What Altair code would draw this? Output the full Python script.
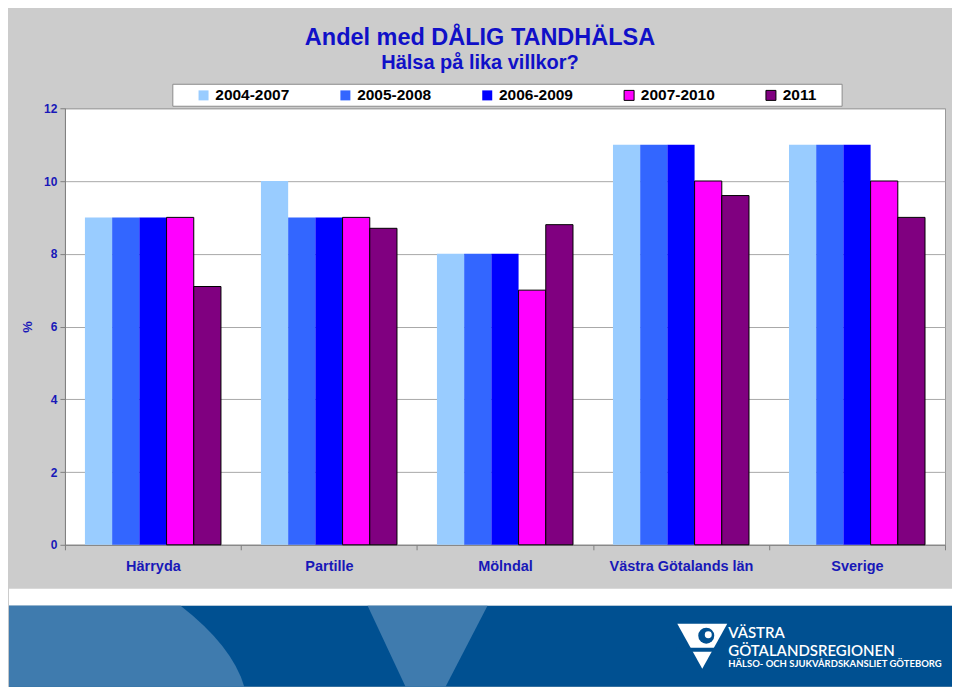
import altair as alt
import pandas as pd

# ---------------- data ----------------
regions = ["Härryda", "Partille", "Mölndal", "Västra Götalands län", "Sverige"]
periods = ["2004-2007", "2005-2008", "2006-2009", "2007-2010", "2011"]
v_2004_2007 = [9, 10, 8, 11, 11]
v_2005_2008 = [9, 9, 8, 11, 11]
v_2006_2009 = [9, 9, 8, 11, 11]
v_2007_2010 = [9, 9, 7, 10, 10]
v_2011 = [7.1, 8.7, 8.8, 9.6, 9.0]
y_ticks = [0, 2, 4, 6, 8, 10, 12]

period_colors = ["#99CCFF", "#3366FF", "#0000FF", "#FF00FF", "#800080"]
period_strokes = ["transparent", "transparent", "transparent", "#000000", "#000000"]

series = [v_2004_2007, v_2005_2008, v_2006_2009, v_2007_2010, v_2011]
rows = []
for p, vals in zip(periods, series):
    for r, v in zip(regions, vals):
        rows.append({"region": r, "period": p, "value": v})
df = pd.DataFrame(rows)

FONT = "Liberation Sans"
BLUE_TXT = "#1818B8"
TITLE_BLUE = "#1010C8"

legend = alt.Legend(
    title=None, orient="none", legendX=131, legendY=-21, direction="horizontal",
    symbolType="square", symbolSize=100, symbolStrokeWidth=1,
    labelFontSize=15.5, labelFontWeight="bold", labelColor="#000000", labelFont=FONT,
    labelOffset=4, columnPadding=48, padding=0,
)

# white legend frame (decoration behind the legend entries)
legend_box = alt.Chart(alt.Data(values=[{"a": 0}])).mark_rect(
    fill="#FFFFFF", stroke="#8C8C8C", strokeWidth=1, clip=False
).encode(x=alt.value(108), x2=alt.value(778), y=alt.value(-24), y2=alt.value(-2))

bars = alt.Chart(df).mark_bar(strokeWidth=1).encode(
    x=alt.X("region:N", sort=regions,
            scale=alt.Scale(paddingInner=0, paddingOuter=0),
            axis=alt.Axis(title=None, labelAngle=0, tickBand="extent", ticks=True, tickSize=5,
                          tickColor="#808080", domainColor="#808080", grid=False,
                          labelFontSize=14.5, labelFontWeight="bold", labelColor=BLUE_TXT,
                          labelFont=FONT, labelPadding=10)),
    xOffset=alt.XOffset("period:N", sort=periods,
                        scale=alt.Scale(paddingInner=0, paddingOuter=0.735)),
    y=alt.Y("value:Q", scale=alt.Scale(domain=[0, 12], nice=False),
            axis=alt.Axis(values=y_ticks, title="%", titleFontSize=13, titleColor=BLUE_TXT,
                          titleFontWeight="bold", titleFont=FONT, titlePadding=9,
                          labelFontSize=12, labelFontWeight="bold", labelColor=BLUE_TXT,
                          labelFont=FONT, labelPadding=3, tickSize=5, tickColor="#808080",
                          domainColor="#808080", gridColor="#A8A8A8")),
    color=alt.Color("period:N", sort=periods,
                    scale=alt.Scale(domain=periods, range=period_colors), legend=legend),
    stroke=alt.Stroke("period:N", sort=periods,
                      scale=alt.Scale(domain=periods, range=period_strokes), legend=legend),
)

# background-coloured rule that pulls the left bound to the page edge
edge = alt.Chart(alt.Data(values=[{"a": 0}])).mark_rule(color="#CCCCCC").encode(
    x=alt.value(-56), x2=alt.value(-56), y=alt.value(0), y2=alt.value(2))

main = alt.layer(edge, legend_box, bars).properties(
    width=881, height=437,
    view=alt.ViewBackground(fill="#FFFFFF", stroke="#999999"),
)

# ---------------- banner (decoration) ----------------
one = alt.Data(values=[{"a": 0}])
b = alt.Chart(one)
white_strip = b.mark_rect(color="#FFFFFF").encode(
    x=alt.value(-56), x2=alt.value(888), y=alt.value(0), y2=alt.value(17))
blue_band = b.mark_rect(color="#005091").encode(
    x=alt.value(-56), x2=alt.value(888), y=alt.value(17), y2=alt.value(98))
left_shape = b.mark_point(
    shape="M -0.862 -0.3115 L 0.46 -0.3115 Q 0.86 0 0.95 0.3115 L -0.862 0.3115 Z",
    filled=True, color="#3F7BAE", opacity=1, size=67600, strokeWidth=0,
).encode(x=alt.value(56), y=alt.value(57.5))
mid_shape = b.mark_point(
    shape="M -1 -0.675 L 1 -0.675 L 0.3 0.675 L -0.367 0.675 Z",
    filled=True, color="#3F7BAE", opacity=1, size=14400, strokeWidth=0,
).encode(x=alt.value(363), y=alt.value(57.5))
logo_tri = b.mark_point(
    shape="M -1 -0.88 L 1 -0.88 L 0 0.92 Z",
    filled=True, color="#FFFFFF", opacity=1, size=2500, strokeWidth=0,
).encode(x=alt.value(638), y=alt.value(57))
logo_strip = b.mark_rect(color="#005091").encode(
    x=alt.value(612), x2=alt.value(666), y=alt.value(59), y2=alt.value(63))
logo_circle = b.mark_point(shape="circle", filled=True, color="#005091", opacity=1,
                           size=256, strokeWidth=0).encode(x=alt.value(642), y=alt.value(47))
logo_dot = b.mark_point(shape="circle", filled=True, color="#FFFFFF", opacity=1,
                        size=49, strokeWidth=0).encode(x=alt.value(644), y=alt.value(46))
t1 = b.mark_text(text="VÄSTRA", color="#FFFFFF", font="Lato", fontSize=15, fontWeight=600,
                 align="left", baseline="alphabetic").encode(x=alt.value(664), y=alt.value(49))
t2 = b.mark_text(text="GÖTALANDSREGIONEN", color="#FFFFFF", font="Lato", fontSize=15,
                 fontWeight=600, align="left", baseline="alphabetic").encode(
    x=alt.value(664), y=alt.value(67))
t3 = b.mark_text(text="HÄLSO- OCH SJUKVÅRDSKANSLIET GÖTEBORG", color="#FFFFFF", font="Lato",
                 fontSize=9.5, fontWeight="bold", align="left", baseline="alphabetic").encode(
    x=alt.value(664), y=alt.value(78))

banner = alt.layer(white_strip, blue_band, left_shape, mid_shape, logo_tri, logo_strip,
                   logo_circle, logo_dot, t1, t2, t3).properties(
    width=888, height=98,
    view=alt.ViewBackground(fill="transparent", stroke=None),
)

chart = alt.vconcat(main, banner, spacing=15).properties(
    title=alt.TitleParams(
        text="Andel med DÅLIG TANDHÄLSA", subtitle="Hälsa på lika villkor?",
        anchor="middle", fontSize=23.5, subtitleFontSize=20,
        fontWeight="bold", subtitleFontWeight="bold",
        color=TITLE_BLUE, subtitleColor=TITLE_BLUE, font=FONT, subtitleFont=FONT,
        offset=10, subtitlePadding=4,
    ),
    padding={"left": 0, "top": 17, "right": 0, "bottom": 0},
).configure(
    background="#CCCCCC", font=FONT,
)

chart.save("out.html", embed_options={"renderer": "svg", "actions": False})
